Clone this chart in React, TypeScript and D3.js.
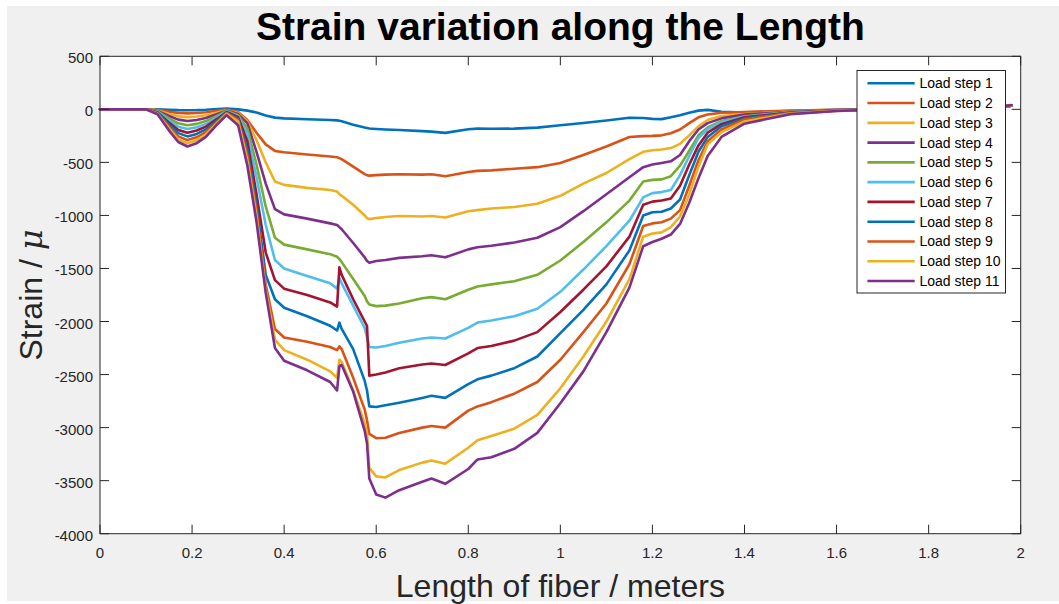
import React from "react";
import * as d3 from "d3";

const lengths = [0, 0.10, 0.125, 0.15, 0.17, 0.19, 0.21, 0.23, 0.255, 0.275, 0.30, 0.32, 0.34, 0.36, 0.38, 0.40, 0.45, 0.50, 0.515, 0.52, 0.525, 0.55, 0.575, 0.58, 0.585, 0.60, 0.62, 0.65, 0.70, 0.72, 0.75, 0.80, 0.82, 0.85, 0.90, 0.95, 1.00, 1.05, 1.10, 1.15, 1.18, 1.20, 1.22, 1.24, 1.26, 1.28, 1.30, 1.32, 1.35, 1.40, 1.50, 1.60, 1.70, 1.80, 1.90, 1.95, 1.98];

const step1 = [0, 0, 0, -4, -7, -8, -7, -4, 3, 8, 0, -12, -30, -58, -78, -85, -94, -100, -104, -108, -112, -145, -172, -176, -180, -185, -190, -195, -205, -210, -222, -188, -182, -183, -182, -172, -150, -128, -105, -80, -82, -90, -92, -75, -55, -32, -12, -5, -22, -30, -15, -5, 0, 5, 12, 20, 35];
const step2 = [0, 0, -5, -22, -33, -38, -35, -28, -14, -3, -25, -100, -220, -330, -392, -405, -425, -445, -452, -460, -470, -540, -610, -620, -625, -620, -615, -612, -615, -612, -630, -590, -580, -575, -560, -545, -505, -430, -350, -260, -252, -250, -245, -225, -190, -130, -75, -48, -32, -25, -12, -5, 0, 5, 12, 20, 35];
const step3 = [0, 0, -10, -43, -66, -75, -68, -56, -30, -8, -35, -115, -290, -500, -680, -712, -740, -760, -775, -800, -815, -900, -1000, -1025, -1035, -1025, -1015, -1005, -1010, -1005, -1020, -960, -950, -935, -920, -890, -815, -700, -600, -470, -400, -385, -378, -365, -325, -245, -160, -100, -62, -45, -20, -6, 0, 5, 12, 20, 35];
const step4 = [0, 0, -14, -63, -97, -110, -100, -82, -44, -12, -45, -130, -400, -700, -940, -990, -1030, -1075, -1090, -1110, -1130, -1260, -1395, -1430, -1445, -1430, -1420, -1400, -1385, -1375, -1395, -1320, -1300, -1285, -1255, -1210, -1110, -960, -800, -640, -545, -520, -505, -490, -430, -300, -190, -130, -85, -50, -22, -7, 0, 5, 12, 20, 35];
const step5 = [0, 0, -20, -85, -132, -150, -137, -111, -60, -15, -55, -180, -520, -915, -1210, -1275, -1320, -1365, -1390, -1410, -1440, -1600, -1760, -1810, -1840, -1855, -1850, -1830, -1780, -1770, -1790, -1700, -1670, -1650, -1620, -1560, -1425, -1250, -1065, -860, -680, -665, -660, -630, -530, -390, -245, -170, -110, -65, -25, -8, 0, 5, 12, 20, 35];
const step6 = [0, 0, -24, -105, -163, -185, -168, -137, -74, -20, -65, -230, -640, -1090, -1420, -1500, -1570, -1640, -1690, -1590, -1640, -1850, -2060, -2150, -2240, -2245, -2230, -2200, -2160, -2150, -2160, -2060, -2010, -1990, -1950, -1880, -1720, -1510, -1290, -1050, -830, -790, -780, -760, -620, -440, -270, -185, -120, -70, -28, -9, 0, 5, 12, 20, 35];
const step7 = [0, 0, -29, -125, -194, -220, -200, -163, -88, -25, -75, -300, -800, -1350, -1610, -1690, -1750, -1820, -1860, -1490, -1560, -1790, -2000, -2040, -2510, -2500, -2480, -2440, -2405, -2395, -2410, -2300, -2250, -2230, -2180, -2100, -1910, -1700, -1480, -1200, -900, -870, -860, -840, -720, -520, -340, -220, -140, -75, -30, -10, 0, 5, 12, 20, 35];
const step8 = [0, 0, -33, -145, -224, -255, -232, -189, -102, -30, -90, -380, -900, -1560, -1790, -1870, -1950, -2040, -2085, -2010, -2070, -2260, -2560, -2650, -2800, -2805, -2790, -2765, -2720, -2700, -2720, -2590, -2545, -2510, -2440, -2330, -2110, -1890, -1650, -1330, -1000, -970, -965, -935, -850, -620, -400, -260, -160, -85, -32, -11, 0, 5, 12, 20, 35];
const step9 = [0, 0, -38, -165, -255, -290, -264, -215, -116, -35, -100, -430, -960, -1650, -2070, -2150, -2190, -2240, -2270, -2235, -2260, -2530, -2830, -2930, -3060, -3100, -3095, -3050, -3000, -2985, -3000, -2840, -2800, -2760, -2680, -2570, -2360, -2100, -1830, -1460, -1100, -1075, -1065, -1030, -950, -720, -480, -300, -190, -95, -35, -12, 0, 5, 12, 20, 35];
const step10 = [0, 0, -42, -182, -282, -320, -291, -237, -128, -42, -115, -480, -1010, -1700, -2170, -2270, -2360, -2470, -2530, -2360, -2380, -2650, -2960, -3050, -3380, -3460, -3470, -3400, -3330, -3310, -3340, -3190, -3120, -3080, -3010, -2880, -2630, -2330, -2000, -1600, -1200, -1170, -1160, -1110, -1010, -800, -540, -330, -215, -115, -40, -14, 0, 5, 12, 20, 35];
const step11 = [0, 0, -46, -200, -308, -350, -319, -260, -140, -55, -150, -530, -1060, -1730, -2250, -2370, -2460, -2570, -2650, -2420, -2410, -2660, -3030, -3150, -3480, -3630, -3660, -3590, -3510, -3480, -3530, -3390, -3300, -3280, -3200, -3050, -2770, -2470, -2100, -1680, -1290, -1250, -1220, -1180, -1080, -880, -650, -440, -260, -135, -45, -15, 0, 5, 12, 20, 40];

const seriesNames = ["Load step 1", "Load step 2", "Load step 3", "Load step 4", "Load step 5", "Load step 6", "Load step 7", "Load step 8", "Load step 9", "Load step 10", "Load step 11"];
const seriesValues = [step1, step2, step3, step4, step5, step6, step7, step8, step9, step10, step11];
const palette = ["#0072BD", "#D95319", "#EDB120", "#7E2F8E", "#77AC30", "#4DBEEE", "#A2142F"];

const xTicks = [0, 0.2, 0.4, 0.6, 0.8, 1, 1.2, 1.4, 1.6, 1.8, 2];
const yTicks = [500, 0, -500, -1000, -1500, -2000, -2500, -3000, -3500, -4000];

const FONT = "'Liberation Sans', Arial, Helvetica, sans-serif";
const AX = "#262626";

export default function App() {
  const W = 1059, H = 604;
  const L = 100, R = 1020.7, T = 56.3, B = 533.7;
  const x = d3.scaleLinear().domain([0, 2]).range([L, R]);
  const y = d3.scaleLinear().domain([-4000, 500]).range([B, T]);
  const line = d3.line<number>().x((_, i) => x(lengths[i])).y((d) => y(d)).curve(d3.curveLinear);
  const tickLen = 9;

  const legX = 857, legY = 70.5, legW = 148.5, legH = 222.5;
  const rowY = (i: number) => 83.3 + i * 19.77;

  return (
    <div style={{ position: "absolute", left: 0, top: 0 }}>
      <svg width={W} height={H} style={{ display: "block" }}>
        <rect x={0} y={0} width={W} height={H} fill="#ffffff" />
        <rect x={7} y={6} width={W - 7} height={595} fill="#f0f0f0" />
        <rect x={L} y={T} width={R - L} height={B - T} fill="#ffffff" />
        <g>
          {seriesValues.map((vals, i) => (
            <path key={i} d={line(vals) || ""} fill="none" stroke={palette[i % palette.length]} strokeWidth={2.6} strokeLinejoin="round" strokeLinecap="round" />
          ))}
        </g>
        <g stroke={AX} strokeWidth={1} fill="none">
          <rect x={L} y={T} width={R - L} height={B - T} />
          {xTicks.map((t, i) => (
            <g key={i}>
              <line x1={x(t)} x2={x(t)} y1={B} y2={B - tickLen} />
              <line x1={x(t)} x2={x(t)} y1={T} y2={T + tickLen} />
            </g>
          ))}
          {yTicks.map((t, i) => (
            <g key={i}>
              <line x1={L} x2={L + tickLen} y1={y(t)} y2={y(t)} />
              <line x1={R} x2={R - tickLen} y1={y(t)} y2={y(t)} />
            </g>
          ))}
        </g>
        <g fontFamily={FONT} fontSize={15} fill={AX}>
          {xTicks.map((t, i) => (
            <text key={i} x={x(t)} y={557.5} textAnchor="middle">{String(t)}</text>
          ))}
          {yTicks.map((t, i) => (
            <text key={i} x={93} y={y(t) + 1.5} textAnchor="end" dominantBaseline="central">{String(t)}</text>
          ))}
        </g>
        <text x={(L + R) / 2} y={39.5} textAnchor="middle" fontFamily={FONT} fontWeight="bold" fontSize={39} fill="#000">Strain variation along the Length</text>
        <text x={(L + R) / 2} y={596.5} textAnchor="middle" fontFamily={FONT} fontSize={32} fill={AX}>Length of fiber / meters</text>
        <text transform={`translate(42,${(T + B) / 2}) rotate(-90)`} textAnchor="middle" fontFamily={FONT} fontSize={32} fill={AX}>
          Strain / <tspan fontStyle="italic" fontFamily="'DejaVu Serif', 'Liberation Serif', serif">μ</tspan>
        </text>
        <g>
          <rect x={legX} y={legY} width={legW} height={legH} fill="#ffffff" stroke={AX} strokeWidth={1} />
          {seriesNames.map((name, i) => (
            <g key={i}>
              <line x1={867.4} x2={914.7} y1={rowY(i)} y2={rowY(i)} stroke={palette[i % palette.length]} strokeWidth={2.6} />
              <text x={919.5} y={rowY(i)} dominantBaseline="central" fontFamily={FONT} fontSize={14} fill="#000">{name}</text>
            </g>
          ))}
        </g>
      </svg>
    </div>
  );
}
